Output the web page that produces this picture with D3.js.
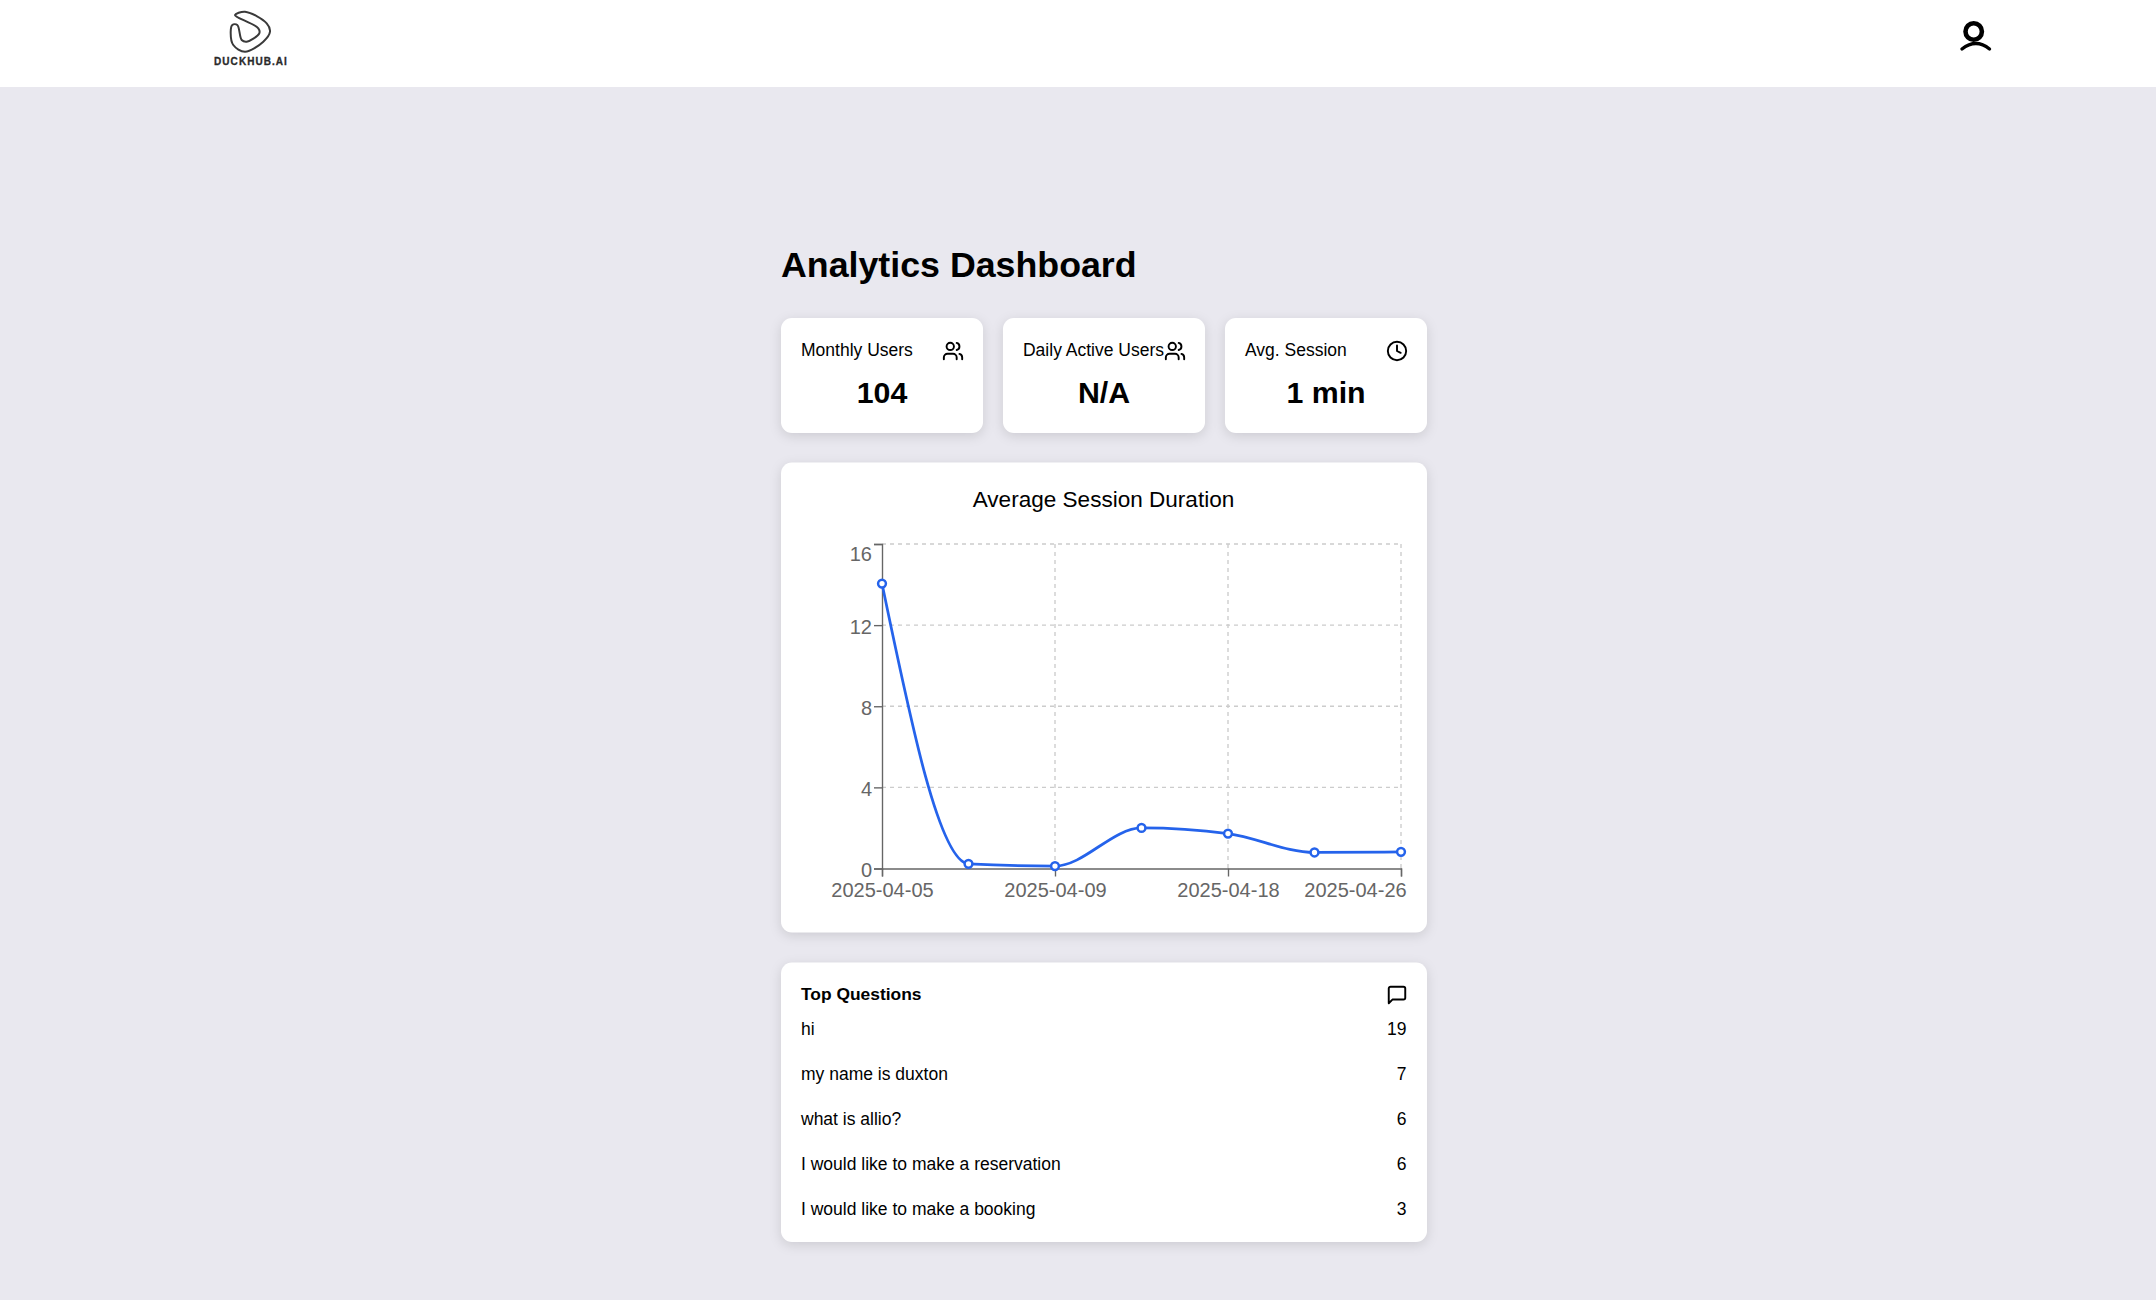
<!DOCTYPE html>
<html>
<head>
<meta charset="utf-8">
<title>Analytics Dashboard</title>
<script src="https://cdn.jsdelivr.net/npm/d3@7"></script>
<style>
  html, body { margin: 0; padding: 0; background: #e9e8ef; }
  svg { display: block; font-family: "Liberation Sans", Arial, sans-serif; }
  .card { fill: #fff; filter: drop-shadow(0 3px 6px rgba(0,0,0,0.12)); }
  .icon { fill: none; stroke: #000; stroke-width: 2.1; stroke-linecap: round; stroke-linejoin: round; }
  .grid line { stroke: #ccc; stroke-width: 1.375; stroke-dasharray: 4 4; }
  .axis path, .axis line { stroke: #666; stroke-width: 1.375; }
  .axis text { fill: #666; font-size: 20px; font-family: "Liberation Sans", Arial, sans-serif; }
</style>
</head>
<body>
<svg id="page" width="2156" height="1300"></svg>
<script>
// session duration, the hidden in-between dates are guesses
const dates = ["2025-04-05", "2025-04-07", "2025-04-09", "2025-04-12", "2025-04-18", "2025-04-22", "2025-04-26"];
const minutes = [14.05, 0.23, 0.12, 2.0, 1.72, 0.79, 0.82];
const dateTicks = ["2025-04-05", "2025-04-09", "2025-04-18", "2025-04-26"];
const minuteTicks = [0, 4, 8, 12, 16];

const statLabels = ["Monthly Users", "Daily Active Users", "Avg. Session"];
const statValues = ["104", "N/A", "1 min"];
const statIcons = ["users", "users", "clock"];

const questions = ["hi", "my name is duxton", "what is allio?", "I would like to make a reservation", "I would like to make a booking"];
const questionCounts = [19, 7, 6, 6, 3];

const svg = d3.select("#page");

// lucide style icons on a 24 box
function drawIcon(g, name, cx, cy, size) {
  const s = size / 24;
  const i = g.append("g").attr("class", "icon")
    .attr("transform", `translate(${cx - size / 2},${cy - size / 2}) scale(${s})`);
  if (name === "users") {
    i.append("path").attr("d", "M16 21v-2a4 4 0 0 0-4-4H6a4 4 0 0 0-4 4v2");
    i.append("circle").attr("cx", 9).attr("cy", 7).attr("r", 4);
    i.append("path").attr("d", "M22 21v-2a4 4 0 0 0-3-3.87");
    i.append("path").attr("d", "M16 3.13a4 4 0 0 1 0 7.75");
  } else if (name === "clock") {
    i.append("circle").attr("cx", 12).attr("cy", 12).attr("r", 10);
    i.append("polyline").attr("points", "12 6 12 12 16 14");
  } else {
    i.append("path").attr("d", "M21 15a2 2 0 0 1-2 2H7l-4 4V5a2 2 0 0 1 2-2h14a2 2 0 0 1 2 2z");
  }
}

// header
svg.append("rect").attr("width", 2156).attr("height", 87).attr("fill", "#fff");
const logoPts = [[235, 15], [245, 11.7], [266.7, 23.3], [270, 31.7], [263.3, 41.7], [245, 51.7], [233.3, 45], [230.7, 31.7], [232.3, 25], [237.3, 25], [241.7, 40], [246.7, 41.7], [259.3, 33.3], [258.3, 28.3], [236.7, 16.7]];
svg.append("path")
  .attr("d", d3.line().curve(d3.curveCatmullRomClosed.alpha(0.5))(logoPts))
  .attr("fill", "none").attr("stroke", "#3a3a3a").attr("stroke-width", 2);
svg.append("text").attr("x", 251).attr("y", 64.5).attr("text-anchor", "middle")
  .attr("font-size", 10).attr("font-weight", 700).attr("letter-spacing", 1.05).attr("fill", "#2a2a2a")
  .attr("stroke", "#2a2a2a").attr("stroke-width", 0.3)
  .text("DUCKHUB.AI");

const user = svg.append("g").attr("fill", "none").attr("stroke", "#000").attr("stroke-linecap", "round");
user.append("circle").attr("cx", 1973.7).attr("cy", 31.5).attr("r", 8.2).attr("stroke-width", 4.6);
user.append("path").attr("d", "M1962 49 Q1976 38 1989.5 49").attr("stroke-width", 3.4);

// page title
svg.append("text").attr("x", 781).attr("y", 277).attr("font-size", 35.75).attr("font-weight", 700)
  .attr("fill", "#000").text("Analytics Dashboard");

// stat cards
const statX = d3.scaleBand().domain(statLabels).range([781, 1427]).paddingInner(0.09);
statLabels.forEach((label, i) => {
  const x = statX(label), w = statX.bandwidth();
  const g = svg.append("g");
  g.append("rect").attr("class", "card").attr("x", x).attr("y", 318).attr("width", w).attr("height", 115).attr("rx", 11);
  g.append("text").attr("x", x + 20).attr("y", 355.5).attr("font-size", 17.5).attr("fill", "#000").text(label);
  g.append("text").attr("x", x + w / 2).attr("y", 402.5).attr("text-anchor", "middle")
    .attr("font-size", 30.3).attr("font-weight", 700).attr("fill", "#000").text(statValues[i]);
  drawIcon(g, statIcons[i], x + w - 30, 351, 22);
});

// chart card
svg.append("rect").attr("class", "card").attr("x", 781).attr("y", 462.5).attr("width", 646).attr("height", 470).attr("rx", 11);
svg.append("text").attr("x", 1103.5).attr("y", 507).attr("text-anchor", "middle")
  .attr("font-size", 22.55).attr("fill", "#000").text("Average Session Duration");

const xScale = d3.scalePoint().domain(dates).range([882, 1401]);
const yScale = d3.scaleLinear().domain([0, 16]).range([868.5, 544]);

const grid = svg.append("g").attr("class", "grid");
grid.selectAll("line.h").data(minuteTicks.filter(d => d > 0)).enter().append("line")
  .attr("class", "h").attr("x1", 882).attr("x2", 1401)
  .attr("y1", d => yScale(d)).attr("y2", d => yScale(d));
grid.selectAll("line.v").data(dateTicks.slice(1)).enter().append("line")
  .attr("class", "v").attr("y1", 544).attr("y2", 868.5)
  .attr("x1", d => xScale(d)).attr("x2", d => xScale(d));

const xAxis = svg.append("g").attr("class", "axis").attr("transform", "translate(0,868.5)")
  .call(d3.axisBottom(xScale).tickValues(dateTicks).tickSize(8).tickPadding(6));
xAxis.selectAll("text").attr("dy", "0.71em")
  .filter(d => d === "2025-04-26").attr("dx", -46);

const yAxis = svg.append("g").attr("class", "axis").attr("transform", "translate(882,0)")
  .call(d3.axisLeft(yScale).tickValues(minuteTicks).tickSize(8).tickPadding(2));
yAxis.selectAll("text").attr("dy", d => d === 16 ? "0.8em" : "0.42em");

const line = d3.line().x((d, i) => xScale(dates[i])).y(d => yScale(d)).curve(d3.curveMonotoneX);
svg.append("path").datum(minutes).attr("d", line)
  .attr("fill", "none").attr("stroke", "#2563eb").attr("stroke-width", 2.75);
svg.selectAll("circle.dot").data(minutes).enter().append("circle")
  .attr("class", "dot").attr("cx", (d, i) => xScale(dates[i])).attr("cy", d => yScale(d))
  .attr("r", 3.9).attr("fill", "#fff").attr("stroke", "#2563eb").attr("stroke-width", 2.5);

// top questions card
svg.append("rect").attr("class", "card").attr("x", 781).attr("y", 962.5).attr("width", 646).attr("height", 279.5).attr("rx", 11);
svg.append("text").attr("x", 801).attr("y", 1000).attr("font-size", 17.4).attr("font-weight", 700)
  .attr("fill", "#000").text("Top Questions");
drawIcon(svg, "message", 1397, 995, 22);

const rowY = d3.scaleLinear().domain([0, 4]).range([1035, 1215]);
const rows = svg.selectAll("g.row").data(questions).enter().append("g").attr("class", "row");
rows.append("text").attr("x", 801).attr("y", (d, i) => rowY(i)).attr("font-size", 17.5).attr("fill", "#000").text(d => d);
rows.append("text").attr("x", 1406.5).attr("y", (d, i) => rowY(i)).attr("text-anchor", "end")
  .attr("font-size", 17.5).attr("fill", "#000").text((d, i) => questionCounts[i]);
</script>
</body>
</html>
